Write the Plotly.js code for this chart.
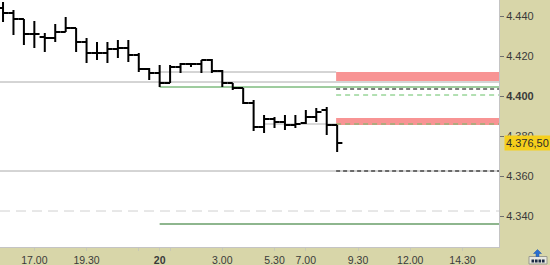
<!DOCTYPE html>
<html>
<head>
<meta charset="utf-8">
<script src="https://cdn.plot.ly/plotly-3.0.1.min.js"></script>
<style>
html,body{margin:0;padding:0;background:#d8d6a9;}
#chart{width:550px;height:265px;}
</style>
</head>
<body>
<div id="chart"></div>
<script>
// 30-minute bar slots (index in the session grid)
const barSlot  = [0,1,2,3,4,5,6,7,8,9,10,11,12,13,14,15,16,17,18,19,20,21,22,23,24,25,26,27,28,29,30,31,32];
const barOpen  = [4444,4441.5,4438.5,4431,4429.5,4429,4432,4434,4427,4421.5,4421.5,4423.5,4424,4420.5,4413.5,4411.5,4406.5,4414.5,4416,4416,4418,4412.5,4406.5,4404,4396.5,4384.5,4388.5,4387,4385.5,4386.5,4389.5,4393,4385.5];
const barHigh  = [4447,4443,4438.5,4437.5,4431.5,4436,4439.5,4434,4429,4427,4427,4428,4428,4421.5,4414,4415.5,4415.5,4416.5,4416.5,4418,4418.5,4413,4406.5,4404,4398,4390.5,4389.5,4390.5,4390.5,4393,4394,4394.5,4385.5];
const barLow   = [4437,4430.5,4425.5,4424,4422,4427,4432,4422,4416.5,4418,4416.5,4419,4417,4412,4408,4404.5,4406.5,4411.5,4414.5,4411.5,4411.5,4404.5,4403,4396,4382.5,4381.5,4384,4383,4384,4386,4387,4380.5,4372];
const barClose = [4441.5,4438.5,4431,4431,4429,4432,4434,4427,4421.5,4421.5,4423.5,4424,4420.5,4413.5,4411.5,4406.5,4414.5,4416,4416,4418,4412.5,4406.5,4404,4396.5,4384.5,4388.5,4387,4385.5,4386,4389.5,4392,4385.5,4376.5];

// x-axis labels and the slots they belong to
const xTickSlot  = [3, 8, 13, 15, 16, 21, 26, 29, 34, 39, 44];
const xTickLabel = ["17.00","19.30","","<b>20</b>","","3.00","5.30","7.00","9.30","12.00","14.30"];

// y-axis ticks
const yTickValues = [4340, 4360, 4380, 4400, 4420, 4440];

// levels
const dayStartSlot  = 15;
const zoneStartSlot = 31.9;
const grayShortStartSlot = 25;
const zoneLow   = [4407.5, 4385.5];
const zoneHigh  = [4412, 4389];
const grayFull  = [4407, 4362.5];
const graySession = [4412];
const grayShort = [4386];
const greenSolid = [4404.5];
const darkGreen = [4336];
const greenDash = [4400.5, 4386];
const blackDash = [4403.5, 4362.5];
const grayDash  = [4342.5];
const lastPrice = 4376.5;

function fmt(v, dec){
  const s = v.toFixed(dec);
  const parts = s.split('.');
  let ip = parts[0];
  ip = ip.replace(/\B(?=(\d{3})+(?!\d))/g, '.');
  return dec > 0 ? ip + ',' + parts[1] : ip;
}

const X_MIN = -0.29, X_MAX = 47.5;

const shapes = [];
function hline(y, x0, x1, color, width, dash){
  shapes.push({type:'line', xref:'x', yref:'y', x0:x0, x1:x1, y0:y, y1:y,
    line:{color:color, width:width, dash:dash||'solid'}, layer:'below'});
}
zoneLow.forEach((lo, i) => {
  shapes.push({type:'rect', xref:'x', yref:'y', x0:zoneStartSlot, x1:X_MAX, y0:lo, y1:zoneHigh[i],
    fillcolor:'#f89494', line:{width:0}, layer:'below'});
});
grayFull.forEach(v => hline(v, X_MIN, X_MAX, '#aaaaaa', 1));
graySession.forEach(v => hline(v, dayStartSlot, zoneStartSlot, '#aaaaaa', 1));
grayShort.forEach(v => hline(v, grayShortStartSlot, zoneStartSlot, '#b4b4b4', 1));
grayDash.forEach(v => hline(v, X_MIN, X_MAX, '#d0d0d0', 1, '10px,6px'));
greenSolid.forEach(v => hline(v, dayStartSlot, X_MAX, '#3e9a3e', 1));
darkGreen.forEach(v => hline(v, dayStartSlot, X_MAX, '#1f6f1f', 1.2));
greenDash.forEach(v => hline(v, zoneStartSlot, X_MAX, '#66c066', 1, '5px,4px'));
blackDash.forEach(v => hline(v, zoneStartSlot, X_MAX, '#000000', 1.2, '4px,3px'));

// bottom-right icon (decoration)
function px2paperX(px){ return px/499; }
function px2paperY(py){ return (247-py)/247; }
shapes.push({type:'rect', xref:'paper', yref:'paper', x0:px2paperX(529), x1:px2paperX(547), y0:px2paperY(264), y1:px2paperY(256.5),
  fillcolor:'#e8e8e0', line:{color:'#9a9a90', width:1}, layer:'above'});
[531.5,535,538.5,542].forEach(px => {
  shapes.push({type:'rect', xref:'paper', yref:'paper', x0:px2paperX(px), x1:px2paperX(px+2.6), y0:px2paperY(262.5), y1:px2paperY(259.5),
    fillcolor:'#1c2a44', line:{width:0}, layer:'above'});
});
shapes.push({type:'path', xref:'paper', yref:'paper',
  path:'M '+px2paperX(537.5)+','+px2paperY(249.5)+' L '+px2paperX(541.5)+','+px2paperY(253.5)+' L '+px2paperX(539)+','+px2paperY(253.5)+' L '+px2paperX(539)+','+px2paperY(256.5)+' L '+px2paperX(536)+','+px2paperY(256.5)+' L '+px2paperX(536)+','+px2paperY(253.5)+' L '+px2paperX(533.5)+','+px2paperY(253.5)+' Z',
  fillcolor:'#2a6fd0', line:{color:'#1d55a8', width:0.5}, layer:'above'});

const trace = {
  type:'ohlc',
  x: barSlot, open: barOpen, high: barHigh, low: barLow, close: barClose,
  increasing:{line:{color:'#000000', width:2}},
  decreasing:{line:{color:'#000000', width:2}},
  tickwidth:0.5,
  hoverinfo:'skip',
  showlegend:false
};

const layout = {
  width:550, height:265,
  margin:{l:0, r:51, t:0, b:18, pad:0},
  paper_bgcolor:'#d8d6a9',
  plot_bgcolor:'#ffffff',
  font:{family:'"Liberation Sans", Arial, sans-serif', size:11, color:'#3a3a3a'},
  showlegend:false,
  xaxis:{
    range:[X_MIN, X_MAX], rangeslider:{visible:false}, fixedrange:true,
    showgrid:false, zeroline:false,
    showline:true, linecolor:'#c4c4c4', linewidth:1,
    ticks:'outside', ticklen:3, tickcolor:'#c8c8b4', tickwidth:1,
    tickmode:'array', tickvals:xTickSlot, ticktext:xTickLabel,
    tickfont:{size:10.5, color:'#3a3a3a'}
  },
  yaxis:{
    side:'right', range:[4324.5, 4448], fixedrange:true,
    showgrid:false, zeroline:false,
    showline:true, linecolor:'#c4c4c4', linewidth:1,
    ticks:'outside', ticklen:4, tickcolor:'#707070', tickwidth:1,
    tickmode:'array', tickvals:yTickValues,
    ticktext: yTickValues.map(v => v === 4400 ? '<b>'+fmt(v,0)+'</b>' : fmt(v,0)),
    tickfont:{size:11, color:'#3a3a3a'}
  },
  shapes: shapes,
  annotations:[{
    xref:'paper', yref:'y', x:1, y:lastPrice, xanchor:'left', yanchor:'middle',
    xshift:5, text:fmt(lastPrice,2), showarrow:false,
    bgcolor:'#f5cf1c', borderpad:1,
    font:{size:11, color:'#2a2a2a'}
  }]
};

Plotly.newPlot('chart', [trace], layout, {staticPlot:true, displayModeBar:false});
</script>
</body>
</html>
